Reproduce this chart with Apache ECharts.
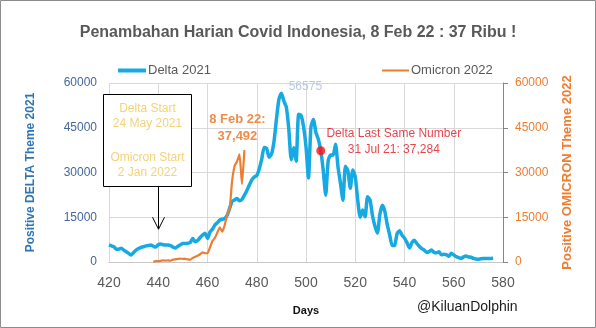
<!DOCTYPE html>
<html>
<head>
<meta charset="utf-8">
<script src="https://cdn.jsdelivr.net/npm/echarts@6/dist/echarts.min.js"></script>
<style>
html,body{margin:0;padding:0;background:#fff;}
#chart{width:596px;height:328px;}
</style>
</head>
<body>
<div id="chart"></div>
<script>
// ---- data ----
const xTicks = [420, 440, 460, 480, 500, 520, 540, 560, 580];
const yTicks = [0, 15000, 30000, 45000, 60000];

const deltaStartDay = 420;
const deltaValues = [
  5700, 5400, 5100, 4300, 4300, 4600, 4000, 3450, 2900, 2350,
  3200, 4000, 4500, 4900, 5100, 5400, 5500, 5700, 5300, 5000,
  5800, 6000, 5800, 5700, 5700, 5500, 5000, 4700, 5300, 5800,
  6200, 6200, 6300, 6500, 7900, 6800, 7200, 8200, 9000, 9600,
  7900, 10000, 11000, 12400, 13200, 14100, 14300, 14600, 15700, 18000,
  20300, 20800, 21300, 20500, 21000, 22400, 24000, 25800, 27500, 28500,
  29000, 31200, 34400, 38400, 38100, 35100, 36200, 40400, 47900, 54500,
  56575, 54000, 51950, 44700, 34300, 38300, 33800, 49500, 49100, 45400,
  38700, 28200, 45200, 47800, 43500, 41200, 37284, 30700, 22400, 33900,
  35900, 35800, 39500, 31800, 26400, 20700, 32100, 30600, 24700, 30800,
  28600, 20800, 15000, 17400, 15200, 21900, 20800, 15500, 12000, 9700,
  16000, 19000, 17000, 12500, 9000, 5500, 5600, 9500, 10500, 9000,
  8000, 6500, 4700, 6500, 7300, 6200, 5300, 4500, 4000, 3200,
  3500, 4000, 3200, 3100, 3400, 2400, 2600, 2500, 1900, 2900,
  2400, 1800, 1500, 1200, 1700, 2000, 1700, 1600, 1200, 1000,
  900, 1100, 1200, 1200, 1200, 1200, 1250
];

const omicronStartDay = 438;
const omicronValues = [
  92, 265, 299, 404, 533, 479, 529, 414, 802, 892,
  1005, 1116, 1050, 1054, 855, 772, 1362, 1745, 2116, 2604,
  3205, 2925, 2927, 4878, 7010, 8077, 9905, 11588, 10185, 12422,
  16021, 17895, 27197, 32211, 33729, 36057, 26121, 37492
];

const deltaPeakLabel = '56575';
const sameNumberPoint = [506, 37284];
const sameNumberText = ['Delta Last Same Number', '31 Jul 21: 37,284'];
const omicronEndText = ['8 Feb 22:', '37,492'];
const boxLines = ['Delta Start', '24 May 2021', '', 'Omicron Start', '2 Jan 2022'];
const titleText = 'Penambahan Harian Covid Indonesia, 8 Feb 22 : 37 Ribu !';
const creditText = '@KiluanDolphin';

// ---- build series data ----
const deltaData = deltaValues.map((v, i) => [deltaStartDay + i, v]);
const omicronData = omicronValues.map((v, i) => [omicronStartDay + i, v]);
let peakIdx = 0;
deltaValues.forEach((v, i) => { if (v > deltaValues[peakIdx]) peakIdx = i; });
const peakPoint = deltaData[peakIdx];
const omicronEnd = omicronData[omicronData.length - 1];

const chart = echarts.init(document.getElementById('chart'), null, {renderer: 'canvas'});
const FONT = 'Liberation Sans';

const option = {
  backgroundColor: '#ffffff',
  animation: false,
  textStyle: {fontFamily: FONT},
  title: {
    text: titleText, left: 293, top: 20, textAlign: 'center',
    textStyle: {fontSize: 16, fontWeight: 'bold', color: '#595959', fontFamily: FONT}
  },
  legend: [
    {data: ['Delta 2021'], left: 113, top: 59, icon: 'rect', itemWidth: 28, itemHeight: 4,
     itemGap: 0, textStyle: {color: '#595959', fontSize: 13, padding: [0, 0, 0, -3]}},
    {data: ['Omicron 2022'], left: 377, top: 59, icon: 'rect', itemWidth: 27, itemHeight: 2,
     itemGap: 0, textStyle: {color: '#595959', fontSize: 13, padding: [0, 0, 0, -3]}}
  ],
  grid: {left: 109, right: 93, top: 83, bottom: 66, containLabel: false},
  xAxis: {
    type: 'value', min: xTicks[0], max: xTicks[xTicks.length - 1], interval: 20,
    name: 'Days', nameLocation: 'middle', nameGap: 43,
    nameTextStyle: {fontSize: 11, fontWeight: 'bold', color: '#111'},
    axisLine: {show: true, lineStyle: {color: '#c8c8c8', width: 1}},
    axisTick: {show: false},
    axisLabel: {fontSize: 14, color: '#595959', margin: 14, formatter: v => String(v)},
    splitLine: {show: true, lineStyle: {color: '#d9d9d9', width: 1}}
  },
  yAxis: [
    {
      type: 'value', min: yTicks[0], max: yTicks[yTicks.length - 1], interval: 15000,
      name: 'Positive DELTA Theme 2021', nameLocation: 'middle', nameRotate: 90, nameGap: 72,
      nameTextStyle: {fontSize: 12, fontWeight: 'bold', color: '#2e75b6'},
      axisLine: {show: false}, axisTick: {show: false},
      axisLabel: {fontSize: 12, color: '#44679e', margin: 12, formatter: v => String(v)},
      splitLine: {show: true, lineStyle: {color: '#d9d9d9', width: 1}}
    },
    {
      type: 'value', position: 'right', min: yTicks[0], max: yTicks[yTicks.length - 1], interval: 15000,
      name: 'Positive OMICRON Theme 2022', nameLocation: 'middle', nameRotate: 90, nameGap: 58,
      nameTextStyle: {fontSize: 13, fontWeight: 'bold', color: '#ed7d31'},
      axisLine: {show: true, lineStyle: {color: '#868686', width: 1}},
      axisTick: {show: true, length: 5, lineStyle: {color: '#868686'}},
      axisLabel: {fontSize: 12, color: '#ed7d31', margin: 12, formatter: v => String(v)},
      splitLine: {show: false}
    }
  ],
  series: [
    {
      name: 'Delta 2021', type: 'line', yAxisIndex: 0, data: deltaData,
      showSymbol: false, symbol: 'none', smooth: 0.2,
      lineStyle: {color: '#17a9e1', width: 3.5}, itemStyle: {color: '#17a9e1'}, z: 3
    },
    {
      name: 'Omicron 2022', type: 'line', yAxisIndex: 1, data: omicronData,
      showSymbol: false, symbol: 'none', smooth: 0.15,
      lineStyle: {color: '#ed7d31', width: 2.2}, itemStyle: {color: '#ed7d31'}, z: 4
    },
    {
      name: 'sameNumber', type: 'scatter', yAxisIndex: 0, data: [sameNumberPoint],
      symbolSize: 9, itemStyle: {color: '#ff1010'}, z: 5,
      label: {show: true, formatter: sameNumberText.join('\n'), position: 'top', offset: [73, 16],
              align: 'center', color: '#e0141e', fontSize: 12, lineHeight: 16}
    },
    {
      name: 'peakLabel', type: 'scatter', yAxisIndex: 0, data: [peakPoint],
      symbolSize: 0, silent: true, z: 6,
      label: {show: true, formatter: deltaPeakLabel, position: 'top', offset: [24, 4],
              color: '#a9bcdc', fontSize: 12}
    },
    {
      name: 'omicronEndLabel', type: 'scatter', yAxisIndex: 1, data: [omicronEnd],
      symbolSize: 0, silent: true, z: 6,
      label: {show: true, formatter: omicronEndText.join('\n'), position: 'top', offset: [-7, 0],
              color: '#e9711c', fontSize: 13, fontWeight: 'bold', lineHeight: 17, align: 'center'}
    }
  ]
};
chart.setOption(option);

// annotation box + arrow anchored to data coordinates
const boxTL = chart.convertToPixel({xAxisIndex: 0, yAxisIndex: 0}, [417.4, 56200]);
const boxBR = chart.convertToPixel({xAxisIndex: 0, yAxisIndex: 0}, [453, 25260]);
const arrowTip = chart.convertToPixel({xAxisIndex: 0, yAxisIndex: 0}, [440, 11000]);
const bx = Math.round(boxTL[0]) + 0.5, by = Math.round(boxTL[1]) + 0.5;
const bw = Math.round(boxBR[0] - boxTL[0]), bh = Math.round(boxBR[1] - boxTL[1]);
const ax = Math.round(arrowTip[0]) + 0.5, ay = arrowTip[1];
const cx = bx + bw / 2;
const lineYs = [14, 29, 0, 63, 78];

const graphics = [
  {type: 'rect', shape: {x: 0.5, y: 0.5, width: 595, height: 327},
   style: {fill: 'none', stroke: '#8c8c8c', lineWidth: 1}, z: 100},
  {type: 'rect', shape: {x: bx, y: by, width: bw, height: bh},
   style: {fill: '#ffffff', stroke: '#000000', lineWidth: 1}, z: 50},
  {type: 'line', shape: {x1: ax, y1: by + bh, x2: ax, y2: ay},
   style: {stroke: '#000000', lineWidth: 1}, z: 50},
  {type: 'polyline', shape: {points: [[ax - 6, ay - 12], [ax, ay], [ax + 6, ay - 12]]},
   style: {stroke: '#000000', lineWidth: 1, fill: 'none'}, z: 50},
  {type: 'text', x: 417, y: 307,
   style: {text: creditText, fill: '#1a1a1a', font: '14px "Liberation Sans"', verticalAlign: 'middle'}, z: 50}
];
boxLines.forEach((t, i) => {
  if (!t) return;
  graphics.push({type: 'text', x: cx, y: by + lineYs[i],
    style: {text: t, fill: '#f3d27a', font: '12px "Liberation Sans"', align: 'center', verticalAlign: 'middle'}, z: 51});
});
chart.setOption({graphic: graphics});
</script>
</body>
</html>
